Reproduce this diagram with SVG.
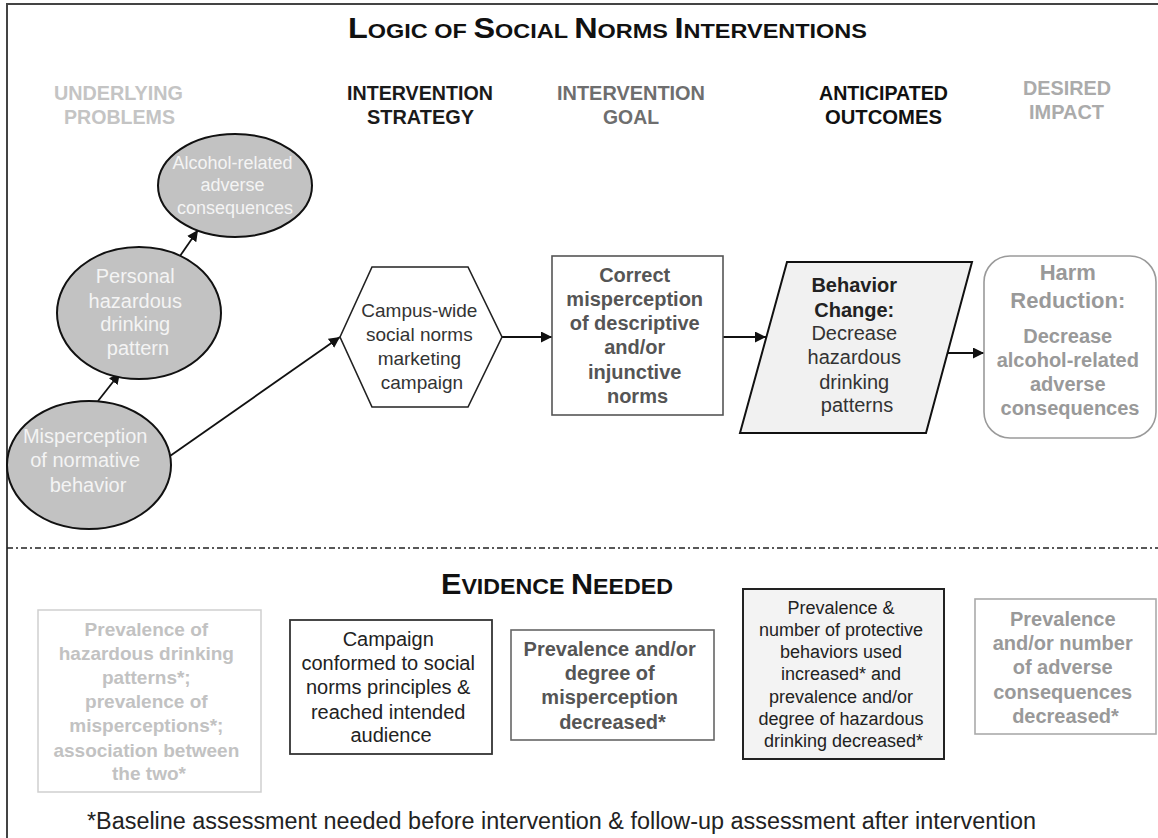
<svg xmlns="http://www.w3.org/2000/svg" width="1158" height="838" viewBox="0 0 1158 838">
  <defs>
    <marker id="arrow" viewBox="0 0 10 10" refX="10" refY="5" markerWidth="11" markerHeight="11" markerUnits="userSpaceOnUse" orient="auto">
      <path d="M0,0 L10,5 L0,10 z" fill="#111"/>
    </marker>
    <style>
      text { font-family: "Liberation Sans", Arial, Helvetica, sans-serif; }
      .hdr { font-size: 19.5px; font-weight: bold; text-anchor: middle; }
      .ttl { font-weight: bold; fill: #111; }
      .c { text-anchor: middle; }
      .b { font-weight: bold; }
      .ell { fill: #c2c2c2; stroke: #111; stroke-width: 2; }
      .ell-t { fill: #f4f4f4; font-size: 20px; }
      .conn { stroke: #111; stroke-width: 1.8; fill: none; marker-end: url(#arrow); }
    </style>
  </defs>

  <rect width="1158" height="838" fill="#ffffff"/>
  <!-- outer frame -->
  <rect x="7" y="4" width="1200" height="900" fill="none" stroke="#444" stroke-width="2"/>

  <!-- main title -->
  <text class="ttl" x="348" y="38" textLength="519" lengthAdjust="spacingAndGlyphs"><tspan font-size="29">L</tspan><tspan font-size="21">OGIC OF </tspan><tspan font-size="29">S</tspan><tspan font-size="21">OCIAL </tspan><tspan font-size="29">N</tspan><tspan font-size="21">ORMS </tspan><tspan font-size="29">I</tspan><tspan font-size="21">NTERVENTIONS</tspan></text>

  <!-- column headers -->
  <g id="headers">
    <text class="hdr" x="118.5" y="100" fill="#c4c4c4" textLength="129" lengthAdjust="spacingAndGlyphs">UNDERLYING</text>
    <text class="hdr" x="119.5" y="124" fill="#c4c4c4" textLength="111" lengthAdjust="spacingAndGlyphs">PROBLEMS</text>
    <text class="hdr" x="420" y="100" fill="#1a1a1a" textLength="146" lengthAdjust="spacingAndGlyphs">INTERVENTION</text>
    <text class="hdr" x="420.5" y="124" fill="#1a1a1a" textLength="107" lengthAdjust="spacingAndGlyphs">STRATEGY</text>
    <text class="hdr" x="631" y="100" fill="#6e6e6e" textLength="148" lengthAdjust="spacingAndGlyphs">INTERVENTION</text>
    <text class="hdr" x="631" y="124" fill="#6e6e6e" textLength="56" lengthAdjust="spacingAndGlyphs">GOAL</text>
    <text class="hdr" x="883.5" y="100" fill="#111" textLength="129" lengthAdjust="spacingAndGlyphs">ANTICIPATED</text>
    <text class="hdr" x="883.5" y="124" fill="#111" textLength="117" lengthAdjust="spacingAndGlyphs">OUTCOMES</text>
    <text class="hdr" x="1067" y="95" fill="#ababab" textLength="88" lengthAdjust="spacingAndGlyphs">DESIRED</text>
    <text class="hdr" x="1066.5" y="119" fill="#ababab" textLength="75" lengthAdjust="spacingAndGlyphs">IMPACT</text>
  </g>

  <!-- connectors -->
  <g id="connectors">
    <line class="conn" x1="180" y1="256" x2="198" y2="230"/>
    <line class="conn" x1="98" y1="401" x2="120" y2="373"/>
    <line class="conn" x1="170" y1="456" x2="340" y2="337"/>
    <line class="conn" x1="502" y1="337" x2="552" y2="337"/>
    <line class="conn" x1="723" y1="337" x2="766" y2="337"/>
    <line class="conn" x1="947" y1="353" x2="984" y2="353"/>
  </g>

  <!-- underlying problems -->
  <g id="node-alcohol-consequences">
    <ellipse class="ell" cx="235" cy="185.5" rx="77" ry="51.5"/>
    <text class="ell-t c" style="font-size:18px">
      <tspan x="235" y="169">Alcohol-related</tspan>
      <tspan x="235" y="191">adverse</tspan>
      <tspan x="235" y="214">consequences</tspan>
    </text>
  </g>

  <g id="node-personal-pattern">
    <ellipse class="ell" cx="139" cy="313" rx="82" ry="66"/>
    <text class="ell-t c">
      <tspan x="138" y="283">Personal</tspan>
      <tspan x="138" y="308">hazardous</tspan>
      <tspan x="138" y="331">drinking</tspan>
      <tspan x="138" y="355">pattern</tspan>
    </text>
  </g>

  <g id="node-misperception">
    <ellipse class="ell" cx="89" cy="465" rx="82" ry="64"/>
    <text class="ell-t c">
      <tspan x="88" y="443">Misperception</tspan>
      <tspan x="88" y="467">of normative</tspan>
      <tspan x="88" y="492">behavior</tspan>
    </text>
  </g>

  <!-- intervention strategy -->
  <g id="node-campaign">
    <polygon points="340,337 372,267 468,267 502,337 468,407 372,407" fill="#fff" stroke="#222" stroke-width="1.6"/>
    <text class="c" fill="#333" style="font-size:19px">
      <tspan x="422" y="317">Campus-wide</tspan>
      <tspan x="422" y="341">social norms</tspan>
      <tspan x="422" y="365">marketing</tspan>
      <tspan x="422" y="389">campaign</tspan>
    </text>
  </g>

  <!-- intervention goal -->
  <g id="node-correct-misperception">
    <rect x="552" y="256" width="171" height="159" fill="#fff" stroke="#555" stroke-width="1.6"/>
    <text class="c b" fill="#555" style="font-size:20px">
      <tspan x="637.5" y="282">Correct</tspan>
      <tspan x="637.5" y="306">misperception</tspan>
      <tspan x="637.5" y="330">of descriptive</tspan>
      <tspan x="637.5" y="354">and/or</tspan>
      <tspan x="637.5" y="379">injunctive</tspan>
      <tspan x="637.5" y="403">norms</tspan>
    </text>
  </g>

  <!-- anticipated outcomes -->
  <g id="node-behavior-change">
    <polygon points="787,262 972,262 926,433 740,433" fill="#f1f1f1" stroke="#111" stroke-width="2"/>
    <text class="c" fill="#222" style="font-size:20px">
      <tspan class="b" x="857" y="292">Behavior</tspan>
      <tspan class="b" x="857" y="317">Change:</tspan>
      <tspan x="857" y="340" fill="#333">Decrease</tspan>
      <tspan x="857" y="364" fill="#333">hazardous</tspan>
      <tspan x="857" y="389" fill="#333">drinking</tspan>
      <tspan x="857" y="412" fill="#333">patterns</tspan>
    </text>
  </g>

  <!-- desired impact -->
  <g id="node-harm-reduction">
    <rect x="984" y="256" width="172" height="182" rx="26" ry="26" fill="#fff" stroke="#9a9a9a" stroke-width="1.6"/>
    <text class="c b" fill="#999">
      <tspan x="1070" y="280" style="font-size:22px">Harm</tspan>
      <tspan x="1070" y="308" style="font-size:22px">Reduction:</tspan>
      <tspan x="1070" y="343" style="font-size:20px">Decrease</tspan>
      <tspan x="1070" y="367" style="font-size:20px">alcohol-related</tspan>
      <tspan x="1070" y="391" style="font-size:20px">adverse</tspan>
      <tspan x="1070" y="415" style="font-size:20px">consequences</tspan>
    </text>
  </g>

  <!-- section divider (dash-dot) -->
  <line x1="7" y1="548" x2="1158" y2="548" stroke="#222" stroke-width="1.6" stroke-dasharray="6 3 2 3"/>

  <!-- evidence title -->
  <text class="ttl" x="441" y="594" textLength="232" lengthAdjust="spacingAndGlyphs"><tspan font-size="29">E</tspan><tspan font-size="22">VIDENCE </tspan><tspan font-size="29">N</tspan><tspan font-size="22">EEDED</tspan></text>

  <!-- evidence boxes -->
  <g id="evidence-problems">
    <rect x="38" y="610" width="223" height="182" fill="#fff" stroke="#cfcfcf" stroke-width="1.5"/>
    <text class="c b" fill="#c2c2c2" style="font-size:19px">
      <tspan x="149" y="636">Prevalence of</tspan>
      <tspan x="149" y="660">hazardous drinking</tspan>
      <tspan x="149" y="684">patterns*;</tspan>
      <tspan x="149" y="708">prevalence of</tspan>
      <tspan x="149" y="732">misperceptions*;</tspan>
      <tspan x="149" y="757">association between</tspan>
      <tspan x="149" y="780">the two*</tspan>
    </text>
  </g>

  <g id="evidence-strategy">
    <rect x="290" y="620" width="202" height="134" fill="#fff" stroke="#333" stroke-width="1.8"/>
    <text class="c" fill="#222" style="font-size:20px">
      <tspan x="391" y="646">Campaign</tspan>
      <tspan x="391" y="670">conformed to social</tspan>
      <tspan x="391" y="694">norms principles &amp;</tspan>
      <tspan x="391" y="719">reached intended</tspan>
      <tspan x="391" y="742">audience</tspan>
    </text>
  </g>

  <g id="evidence-goal">
    <rect x="511" y="630" width="203" height="110" fill="#fff" stroke="#666" stroke-width="1.6"/>
    <text class="c b" fill="#555" style="font-size:20px">
      <tspan x="612.5" y="656">Prevalence and/or</tspan>
      <tspan x="612.5" y="680">degree of</tspan>
      <tspan x="612.5" y="704">misperception</tspan>
      <tspan x="612.5" y="729">decreased*</tspan>
    </text>
  </g>

  <g id="evidence-outcomes">
    <rect x="743" y="589" width="201" height="170" fill="#f3f3f3" stroke="#222" stroke-width="2"/>
    <text class="c" fill="#222" style="font-size:18px">
      <tspan x="843.5" y="614">Prevalence &amp;</tspan>
      <tspan x="843.5" y="636">number of protective</tspan>
      <tspan x="843.5" y="658">behaviors used</tspan>
      <tspan x="843.5" y="680">increased* and</tspan>
      <tspan x="843.5" y="703">prevalence and/or</tspan>
      <tspan x="843.5" y="725">degree of hazardous</tspan>
      <tspan x="843.5" y="747">drinking decreased*</tspan>
    </text>
  </g>

  <g id="evidence-impact">
    <rect x="975" y="599" width="181" height="135" fill="#fff" stroke="#aaa" stroke-width="1.6"/>
    <text class="c b" fill="#999" style="font-size:20px">
      <tspan x="1065.5" y="626">Prevalence</tspan>
      <tspan x="1065.5" y="650">and/or number</tspan>
      <tspan x="1065.5" y="674">of adverse</tspan>
      <tspan x="1065.5" y="699">consequences</tspan>
      <tspan x="1065.5" y="723">decreased*</tspan>
    </text>
  </g>

  <!-- footnote -->
  <text x="87" y="829" fill="#222" style="font-size:23px" textLength="949" lengthAdjust="spacingAndGlyphs">*Baseline assessment needed before intervention &amp; follow-up assessment after intervention</text>
</svg>
